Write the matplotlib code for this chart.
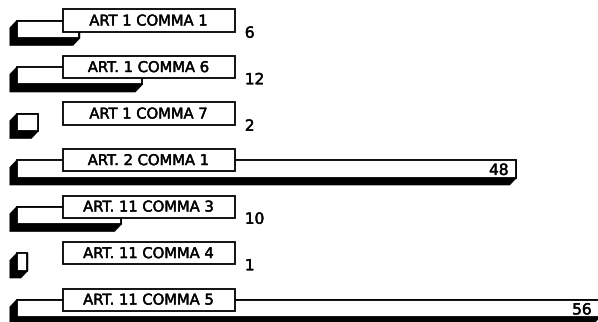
import matplotlib
matplotlib.use("Agg")
from matplotlib import pyplot as plt
from matplotlib.patches import Polygon, Rectangle
import matplotlib.patheffects as pe

# data
labels = ["ART 1 COMMA 1", "ART. 1 COMMA 6", "ART 1 COMMA 7", "ART. 2 COMMA 1",
          "ART. 11 COMMA 3", "ART. 11 COMMA 4", "ART. 11 COMMA 5"]
values = [6, 12, 2, 48, 10, 1, 56]

# layout (data units: x = count, y = row index)
halfH = 0.183      # half height of the bar front face
dx, dy = -0.64, 0.15   # extrusion going down-left
boxX0, boxX1 = 4.42, 20.96
boxTop, boxBot = -0.43, 0.045

# a thin stroke to thicken the text a bit, like the scanned original
thick = [pe.withStroke(linewidth=0.3, foreground="black")]

fig = plt.figure(figsize=(5.98, 3.22), dpi=100)
ax = fig.add_axes([0, 0, 1, 1])
ax.set_xlim(-1.635, 55.87)
ax.set_ylim(6.29, -0.634)
ax.axis("off")

for i, (lab, v) in enumerate(zip(labels, values)):
    yt, yb = i - halfH, i + halfH
    # black extrusion behind the front face
    shade = Polygon([(0, yt), (v, yt), (v, yb), (v + dx, yb + dy),
                     (dx, yb + dy), (dx, yt + dy)],
                    closed=True, facecolor="black", edgecolor="black", lw=1.2, zorder=1)
    ax.add_patch(shade)
    front = Rectangle((0, yt), v, yb - yt, facecolor="white", edgecolor="black",
                      lw=1.3, zorder=2)
    ax.add_patch(front)
    # label box over the bar
    box = Rectangle((boxX0, i + boxTop), boxX1 - boxX0, boxBot - boxTop,
                    facecolor="white", edgecolor="black", lw=1.3, zorder=3)
    ax.add_patch(box)
    ax.text((boxX0 + boxX1) / 2, i + (boxTop + boxBot) / 2 + 0.01, lab, ha="center",
            va="center", fontsize=10.6, family="DejaVu Sans", zorder=4,
            path_effects=thick)
    # value: inside the bar end when it is long, else next to the box
    if v > boxX1:
        ax.text(v - 0.75, i + 0.03, str(v), ha="right", va="center",
                fontsize=11, family="DejaVu Sans", zorder=4, path_effects=thick)
    else:
        ax.text(boxX1 + 0.95, i + 0.08, str(v), ha="left", va="center",
                fontsize=11, family="DejaVu Sans", zorder=4, path_effects=thick)

fig.savefig("out.png", dpi=100)
